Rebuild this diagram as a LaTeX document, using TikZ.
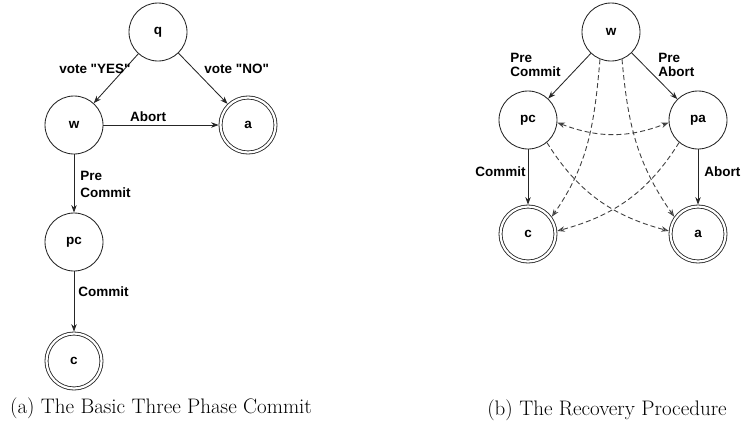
\documentclass[tikz,border=0pt]{standalone}
\usepackage{fontspec}
\newfontfamily\labfont{Liberation Sans}
\usetikzlibrary{arrows.meta}
\begin{document}
\begin{tikzpicture}[x=1pt,y=-1pt,
  every path/.style={line width=0.85pt},
  state/.style={circle, draw=black!85, line width=0.85pt, minimum size=58pt, inner sep=0pt, font=\labfont\bfseries\fontsize{13.5}{16}\selectfont},
  accept/.style={state, minimum size=55pt, double, double distance=2.2pt, outer sep=1.9pt},
  lbl/.style={inner sep=0pt, font=\labfont\bfseries\fontsize{13.5}{17}\selectfont, align=left},
  lbltight/.style={inner sep=0pt, font=\labfont\bfseries\fontsize{13.5}{14}\selectfont, align=left},
  solidarrow/.style={draw=black!85, -{Stealth[length=7.5pt,width=5.5pt]}},
  dasharrow/.style={draw=black!75, line width=0.9pt, dash pattern=on 5pt off 3pt, -{Stealth[length=7.5pt,width=5.5pt,open]}},
  captext/.style={inner sep=0pt, font=\fontsize{21}{25}\selectfont}
]
\useasboundingbox (0,0) rectangle (743,421);

% ---------- (a) ----------
\node[state]  (q)   at (158,32)  {q};
\node[state]  (w1)  at (74,125)  {w};
\node[accept] (a1)  at (248,125) {a};
\node[state]  (pc1) at (74,242)  {pc};
\node[accept] (c1)  at (74,361)  {c};

\draw[solidarrow] (q) -- (w1);
\draw[solidarrow] (q) -- (a1);
\draw[solidarrow] (w1) -- (a1);
\draw[solidarrow] (w1) -- (pc1);
\draw[solidarrow] (pc1) -- (c1);

\node[lbl, anchor=east] (lyes) at (131,69) {vote "YES"};
\node[lbl, anchor=west] (lno)  at (204,69) {vote "NO"};
\node[lbl] (labort1) at (148,117) {Abort};
\node[lbl, anchor=west] (lpre1) at (80,184) {Pre\\Commit};
\node[lbl, anchor=west] (lcommit1) at (78,292) {Commit};

\node[captext] (capa) at (161,408) {(a) The Basic Three Phase Commit};

% ---------- (b) ----------
\node[state]  (w2)  at (611,32)  {w};
\node[state]  (pc2) at (528,120) {pc};
\node[state]  (pa2) at (698,120) {pa};
\node[accept] (c2)  at (528,234) {c};
\node[accept] (a2)  at (698,234) {a};

\draw[solidarrow] (w2) -- (pc2);
\draw[solidarrow] (w2) -- (pa2);
\draw[solidarrow] (pc2) -- (c2);
\draw[solidarrow] (pa2) -- (a2);

\draw[dasharrow] (w2.-112) to[out=-95,in=55] (c2.36);
\draw[dasharrow] (w2.-68) to[out=-85,in=125] (a2.144);
\draw[dasharrow] (pc2.-50) to[out=-58,in=165] (a2.174);
\draw[dasharrow] (pa2.-130) to[out=-122,in=15] (c2.6);
\draw[dasharrow, {Stealth[length=7.5pt,width=5.5pt,open]}-{Stealth[length=7.5pt,width=5.5pt,open]}] (pc2.-5) to[out=-21,in=-159] (pa2.-175);

\node[lbltight, anchor=west] (lpre2) at (510,65) {Pre\\Commit};
\node[lbltight, anchor=west] (lpre3) at (658,65) {Pre\\Abort};
\node[lbl, anchor=east] (lcommit2) at (526,172) {Commit};
\node[lbl, anchor=west] (labort2) at (704,172) {Abort};

\node[captext] (capb) at (607,410) {(b) The Recovery Procedure};
\end{tikzpicture}
\end{document}
